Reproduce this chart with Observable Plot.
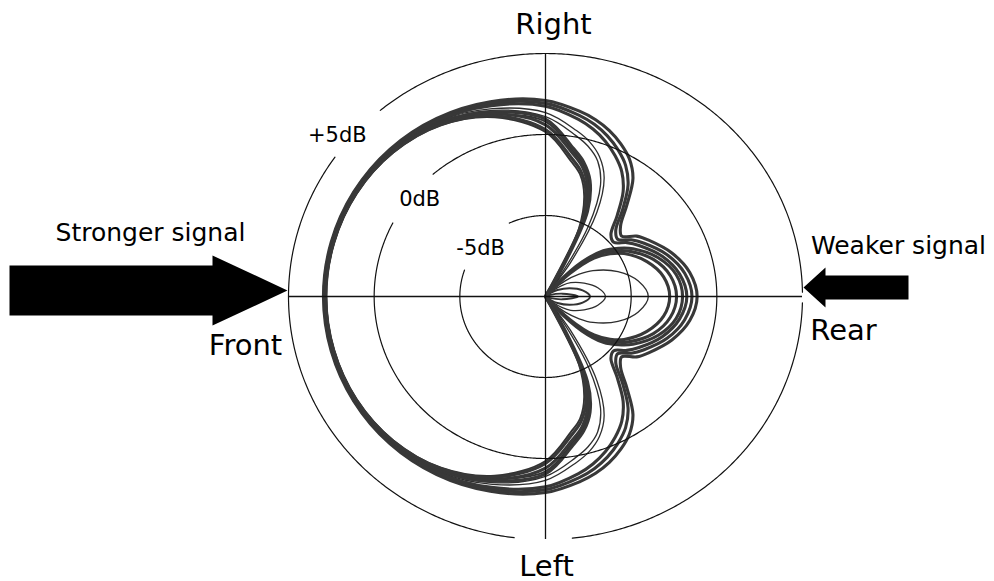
<!DOCTYPE html>
<html>
<head>
<meta charset="utf-8">
<script src="https://cdn.jsdelivr.net/npm/d3@7"></script>
<script src="https://cdn.jsdelivr.net/npm/@observablehq/plot@0.6"></script>
<style>
  html, body { margin: 0; padding: 0; background: #fff; }
  #chart svg { display: block; }
</style>
</head>
<body>
<div id="chart"></div>
<script>
// Directional response in dB, sampled at angles measured from the front axis
// (0° = Front, 90° = Right, 180° = Rear). The Left half mirrors these values.
const angles = [0, 15, 30, 45, 60, 75, 90, 100, 105, 110, 115, 120, 125, 130, 135, 140, 145, 150, 160, 170, 180];

// Curves with a shallow rear null (outer band)
const respOuter1 = [2.96, 2.95, 2.92, 2.85, 2.70, 2.45, 2.10, 1.60, 1.30, 0.90, 0.40, -0.20, -1.10, -2.60, -3.80, -4.20, -3.50, -3.05, -2.15, -1.45, -1.15];
const respOuter2 = [2.92, 2.91, 2.88, 2.80, 2.62, 2.33, 1.92, 1.35, 1.00, 0.55, 0.00, -0.65, -1.60, -3.00, -4.20, -4.50, -3.90, -3.40, -2.45, -1.75, -1.45];
const respOuter3 = [2.88, 2.87, 2.84, 2.75, 2.55, 2.20, 1.75, 1.10, 0.70, 0.20, -0.40, -1.10, -2.10, -3.50, -4.60, -4.80, -4.20, -3.70, -2.75, -2.05, -1.75];

// Curves with a deep null near 120° (inner band)
const respInner1 = [2.86, 2.84, 2.80, 2.68, 2.40, 1.80, 0.95, -0.70, -1.40, -2.40, -4.20, -8.50, -12.0, -9.00, -7.00, -5.60, -4.80, -4.10, -3.00, -2.25, -2.00];
const respInner2 = [2.84, 2.82, 2.78, 2.64, 2.33, 1.68, 0.60, -1.00, -1.70, -2.80, -4.70, -9.50, -12.0, -9.50, -7.50, -5.90, -5.10, -4.40, -3.30, -2.60, -2.35];
const respInner3 = [2.82, 2.80, 2.75, 2.60, 2.25, 1.55, 0.30, -1.30, -2.00, -3.10, -5.00, -11.0, -12.0, -11.0, -8.00, -6.30, -5.40, -4.70, -3.70, -3.00, -2.75];

// Curves with a small rear lobe
const respSmallRear1 = [2.86, 2.85, 2.82, 2.72, 2.48, 2.00, 1.35, 0.40, -0.10, -0.80, -1.90, -4.00, -7.50, -11.0, -9.50, -8.50, -7.60, -6.80, -5.50, -4.50, -4.00];
const respSmallRear2 = [2.85, 2.84, 2.80, 2.70, 2.42, 1.90, 1.10, 0.10, -0.40, -1.10, -2.40, -5.00, -9.00, -12.0, -12.0, -9.40, -8.80, -8.30, -7.60, -6.90, -6.50];
const respSmallRear3 = [2.84, 2.82, 2.78, 2.62, 2.30, 1.62, 0.80, -0.85, -1.55, -2.60, -4.50, -9.00, -12.0, -12.0, -12.0, -12.0, -9.60, -9.20, -8.50, -7.80, -7.40];
const respSmallRear4 = [2.80, 2.78, 2.72, 2.56, 2.20, 1.45, 0.15, -1.50, -2.20, -3.40, -5.40, -11.0, -12.0, -12.0, -12.0, -12.0, -12.0, -12.0, -9.75, -9.00, -8.10];

// Reference rings (dB) and their labels
const ringLevels = [5, 0, -5];
const ringLabels = ["+5dB", "0dB", "-5dB"];

// Direction labels
const directionLabels = ["Right", "Left", "Front", "Rear"];
const signalLabels = ["Stronger signal", "Weaker signal"];

// ---------------------------------------------------------------------------
const floorDb = -10;              // centre of the plot
const W = 994, H = 581;
const cx = 545, cy = 296;         // pixel position of the centre
const kx = 257 / 15, ky = 243 / 15; // pixels per dB, horizontally and vertically
const X = px => (px - cx) / kx;   // pixel → data helpers for annotations
const Y = py => (cy - py) / ky;
const rad = d => d * Math.PI / 180;

// Polar curves: top half from the arrays, bottom half mirrored
function loopRows(name, db) {
  const pts = angles.map((a, i) => ({a, r: Math.max(0, db[i] - floorDb)}));
  const loop = [...pts, ...pts.slice(1, -1).reverse().map(p => ({a: 360 - p.a, r: p.r}))];
  return loop.map(p => ({name, x: -p.r * Math.cos(rad(p.a)), y: p.r * Math.sin(rad(p.a))}));
}
const heavy = [
  ["outer1", respOuter1], ["outer2", respOuter2], ["outer3", respOuter3],
  ["inner1", respInner1], ["inner2", respInner2], ["inner3", respInner3]
].flatMap(([n, d]) => loopRows(n, d));
const mid = [["small3", respSmallRear3], ["small4", respSmallRear4]].flatMap(([n, d]) => loopRows(n, d));
const light = [["small1", respSmallRear1], ["small2", respSmallRear2]].flatMap(([n, d]) => loopRows(n, d));

// Rings, broken where a label or an axis end sits on them
const ringGaps = new Map([
  [5, [[35, 50], [179, 181.5], [264, 277]]],
  [0, [[27, 49]]],
  [-5, [[19, 65]]]
]);
const ringRows = [];
ringLevels.forEach(level => {
  const r = level - floorDb;
  const gaps = ringGaps.get(level);
  let seg = 0, open = false;
  for (let t = 0; t <= 360; t += 0.5) {
    if (gaps.some(([a, b]) => t > a && t < b)) { if (open) seg++; open = false; continue; }
    ringRows.push({ring: `${level}:${seg}`, x: -r * Math.cos(rad(t)), y: r * Math.sin(rad(t))});
    open = true;
  }
});
const outerR = ringLevels[0] - floorDb;

// Ring label placement (angle from front, radius in dB above the floor)
const ringLabelPos = [[39.3, 15.7], [39.4, 9.5], [38.0, 4.8]];
const ringText = ringLabels.map((t, i) => ({
  text: t,
  x: -ringLabelPos[i][1] * Math.cos(rad(ringLabelPos[i][0])),
  y: ringLabelPos[i][1] * Math.sin(rad(ringLabelPos[i][0]))
}));

const dirText = [
  {text: directionLabels[0], x: X(553), y: Y(24.5)},
  {text: directionLabels[1], x: X(546), y: Y(566)},
  {text: directionLabels[2], x: X(245), y: Y(345.5)},
  {text: directionLabels[3], x: X(843), y: Y(330.5)}
];
const sigText = [
  {text: signalLabels[0], x: X(150), y: Y(232.5)},
  {text: signalLabels[1], x: X(898), y: Y(245)}
];

// Block arrows pointing at the front and rear
const arrowLeft = [[9, 265], [212, 265], [212, 255], [287, 290], [212, 325], [212, 315], [9, 315]]
  .map(([px, py]) => ({x: X(px), y: Y(py)}));
const arrowRight = [[908, 275], [825, 275], [825, 267], [803, 287], [825, 307], [825, 299], [908, 299]]
  .map(([px, py]) => ({x: X(px), y: Y(py)}));

const chart = Plot.plot({
  width: W,
  height: H,
  margin: 0,
  style: {background: "#fff", overflow: "visible"},
  x: {domain: [X(0), X(W)], range: [0, W], axis: null},
  y: {domain: [Y(H), Y(0)], range: [H, 0], axis: null},
  marks: [
    Plot.line(light, {x: "x", y: "y", z: "name", curve: "catmull-rom-closed", stroke: "#2e2e2e", strokeWidth: 1.3}),
    Plot.line(mid, {x: "x", y: "y", z: "name", curve: "catmull-rom-closed", stroke: "#333", strokeWidth: 1.9}),
    Plot.line(heavy, {x: "x", y: "y", z: "name", curve: "catmull-rom-closed", stroke: "#383838", strokeWidth: 3.1}),
    Plot.line(ringRows, {x: "x", y: "y", z: "ring", stroke: "#111", strokeWidth: 1.2}),
    Plot.ruleY([0], {x1: -outerR, x2: outerR, stroke: "#111", strokeWidth: 1.3}),
    Plot.ruleX([0], {y1: -outerR, y2: outerR, stroke: "#111", strokeWidth: 1.3}),
    Plot.line(arrowLeft, {x: "x", y: "y", curve: "linear-closed", fill: "#000", stroke: "none"}),
    Plot.line(arrowRight, {x: "x", y: "y", curve: "linear-closed", fill: "#000", stroke: "none"}),
    Plot.text(ringText, {x: "x", y: "y", text: "text", fontSize: 21, fontFamily: "DejaVu Sans", fill: "#000"}),
    Plot.text(dirText, {x: "x", y: "y", text: "text", fontSize: 29, fontFamily: "DejaVu Sans", fill: "#000"}),
    Plot.text(sigText, {x: "x", y: "y", text: "text", fontSize: 25, fontFamily: "DejaVu Sans", fill: "#000"})
  ]
});
document.getElementById("chart").appendChild(chart);
</script>
</body>
</html>
